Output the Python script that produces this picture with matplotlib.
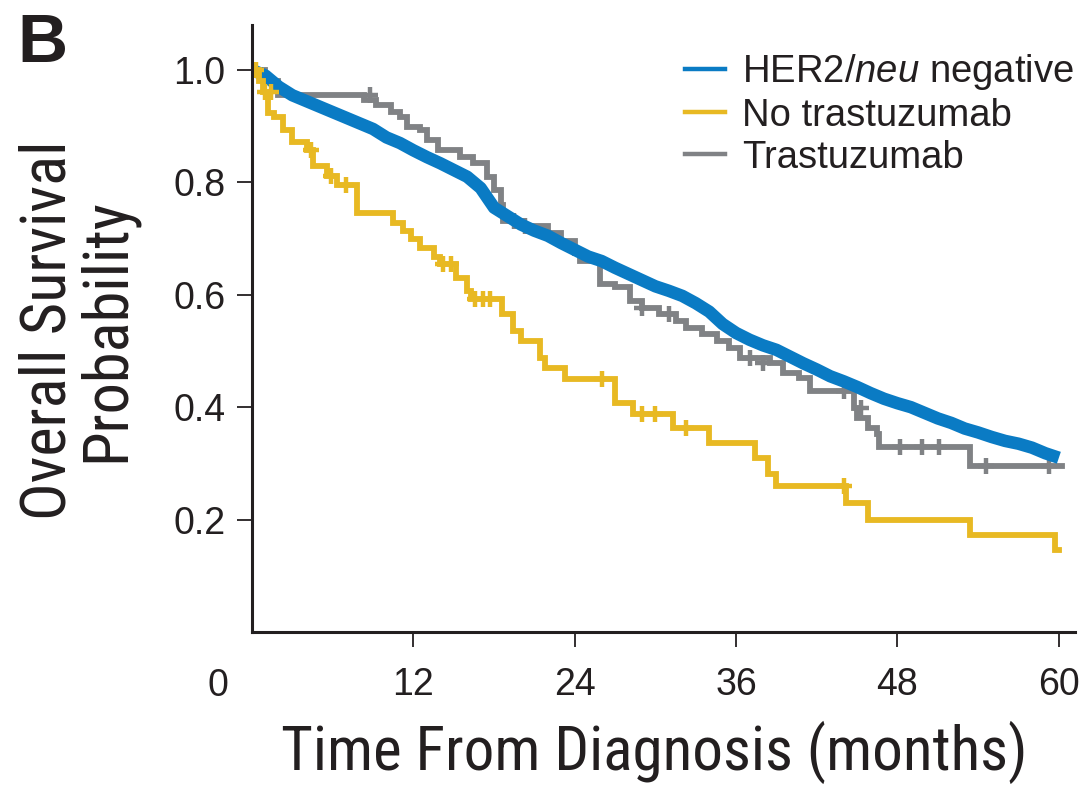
import matplotlib
matplotlib.use('Agg')
import matplotlib.pyplot as plt
from matplotlib.lines import Line2D

# ---------------- data ----------------
neg_t = [0, 1, 2, 3, 4, 5, 6, 7, 8, 9, 10, 11, 12, 13, 14, 15, 16, 17, 18, 19, 20,
         21, 22, 23, 24, 25, 26, 27, 28, 29, 30, 31, 32, 33, 34, 35, 36, 37, 38, 39, 40,
         41, 42, 43, 44, 45, 46, 47, 48, 49, 50, 51, 52, 53, 54, 55, 56, 57, 58, 59, 60]
neg_s = [1.0, 0.99, 0.97, 0.955, 0.945, 0.935, 0.925, 0.915, 0.905, 0.895, 0.88,
         0.87, 0.857, 0.845, 0.834, 0.822, 0.81, 0.79, 0.755, 0.74, 0.725,
         0.714, 0.705, 0.692, 0.68, 0.668, 0.66, 0.648, 0.637, 0.626, 0.615,
         0.607, 0.598, 0.585, 0.57, 0.548, 0.532, 0.52, 0.51, 0.502, 0.49,
         0.478, 0.467, 0.455, 0.446, 0.436, 0.425, 0.415, 0.407, 0.40, 0.39,
         0.38, 0.372, 0.362, 0.355, 0.347, 0.34, 0.335, 0.328, 0.318, 0.31]

notr_t = [0, 0.5, 0.8, 1.2, 1.6, 2.3, 3.0, 4.1, 4.5, 5.6, 6.3, 7.8, 10.5, 11.2, 11.8,
          12.5, 13.5, 14.0, 15.2, 16.0, 16.3, 18.6, 19.4, 20.0, 21.4, 21.8, 23.3,
          27.0, 28.3, 31.3, 34.0, 37.4, 38.4, 39.0, 44.2, 45.8, 53.4, 59.7, 60.0]
notr_s = [1.0, 0.98, 0.96, 0.923, 0.916, 0.893, 0.871, 0.857, 0.83, 0.812, 0.795,
          0.746, 0.727, 0.714, 0.70, 0.684, 0.668, 0.655, 0.63, 0.607, 0.593,
          0.566, 0.536, 0.518, 0.4875, 0.47, 0.45, 0.407, 0.387, 0.363, 0.336,
          0.309, 0.282, 0.259, 0.229, 0.20, 0.173, 0.146, 0.146]
notr_cens_t = [0.3, 1.0, 1.4, 4.4, 5.9, 7.0, 14.2, 14.8, 16.6, 17.2, 17.7, 26.0,
               29.0, 30.0, 32.3, 44.0]
notr_cens_s = [1.0, 0.96, 0.96, 0.857, 0.812, 0.795, 0.655, 0.655, 0.593, 0.593,
               0.593, 0.45, 0.387, 0.387, 0.363, 0.259]

tr_t = [0, 1.0, 1.9, 8.3, 9.2, 10.3, 11.0, 11.5, 12.5, 13.0, 13.8, 15.5, 16.4, 17.5,
        18.0, 18.5, 18.7, 20.0, 22.0, 23.0, 24.0, 24.4, 25.9, 27.0, 28.1, 29.0,
        30.3, 31.5, 32.3, 33.5, 34.6, 35.5, 36.3, 38.5, 39.5, 40.7, 41.5, 44.8,
        45.0, 45.8, 46.5, 46.6, 53.4, 60.2]
tr_s = [1.0, 0.98, 0.955, 0.946, 0.937, 0.925, 0.916, 0.898, 0.893, 0.875, 0.857,
        0.845, 0.834, 0.809, 0.786, 0.76, 0.732, 0.723, 0.71, 0.695, 0.675, 0.66,
        0.62, 0.613, 0.589, 0.577, 0.566, 0.554, 0.541, 0.53, 0.518, 0.505,
        0.4875, 0.479, 0.461, 0.452, 0.429, 0.398, 0.38, 0.363, 0.352, 0.33,
        0.295, 0.295]
tr_cens_t = [8.8, 19.5, 20.3, 29.0, 31.0, 37.0, 38.0, 44.0, 45.3, 48.2, 49.8, 51.1,
             54.6, 59.3]
tr_cens_s = [0.955, 0.732, 0.723, 0.577, 0.566, 0.4875, 0.479, 0.429, 0.398, 0.33,
             0.33, 0.33, 0.295, 0.295]

x_ticks = [12, 24, 36, 48, 60]
y_ticks = [0.2, 0.4, 0.6, 0.8, 1.0]
y_ticklabels = ['0.2', '0.4', '0.6', '0.8', '1.0']
labels = ['HER2/$\\mathit{neu}$ negative', 'No trastuzumab', 'Trastuzumab']

# ---------------- style ----------------
BLUE = '#0a7bc4'
YELLOW = '#e8b923'
GRAY = '#808285'
INK = '#231f20'
NARROW = ['Roboto Condensed', 'Archivo Narrow', 'DejaVu Sans']

plt.rcParams['font.family'] = ['Liberation Sans', 'DejaVu Sans']
plt.rcParams['mathtext.fontset'] = 'custom'
plt.rcParams['mathtext.it'] = 'Liberation Sans:italic'
plt.rcParams['mathtext.rm'] = 'Liberation Sans'

fig = plt.figure(figsize=(10.84, 7.91), dpi=100)
ax = fig.add_axes([252 / 1084, 1 - 632 / 791, (1075 - 252) / 1084, (632 - 25) / 791])

ax.plot(tr_t, tr_s, drawstyle='steps-post', color=GRAY, lw=4.2, solid_joinstyle='miter')
ax.plot(tr_cens_t, tr_cens_s, ls='none', marker='+', ms=11, mew=3.2, color=GRAY)
ax.plot(neg_t, neg_s, color=BLUE, lw=9, solid_capstyle='butt')
ax.plot(notr_t, notr_s, drawstyle='steps-post', color=YELLOW, lw=4.2, solid_joinstyle='miter')
ax.plot(notr_cens_t, notr_cens_s, ls='none', marker='+', ms=11, mew=3.2, color=YELLOW)

ax.set_xlim(0, 61.2)
ax.set_ylim(0, 1.08)
for s in ['top', 'right']:
    ax.spines[s].set_visible(False)
for s in ['left', 'bottom']:
    ax.spines[s].set_linewidth(2.2)
    ax.spines[s].set_color(INK)

ax.set_xticks(x_ticks)
ax.set_xticklabels([str(v) for v in x_ticks], fontsize=27, color=INK)
ax.set_yticks(y_ticks)
ax.set_yticklabels(y_ticklabels, fontsize=27, color=INK)
ax.tick_params(axis='both', direction='out', length=11, width=1.3, color=INK)
ax.tick_params(axis='x', pad=14)
ax.tick_params(axis='y', pad=8)

fig.text(218 / 1084, 1 - 686 / 791, '0', fontsize=27,
         ha='center', va='center', color=INK)

fig.text(654 / 1084, 1 - 752 / 791, 'Time From Diagnosis (months)', family=NARROW,
         fontsize=44, ha='center', va='center', color=INK)
fig.text(78 / 1084, 1 - 330 / 791, 'Overall Survival\nProbability', family=NARROW,
         fontsize=45, rotation=90, ha='center', va='center', multialignment='center',
         linespacing=0.95, color=INK)

fig.text(17 / 1084, 1 - 12 / 791, 'B', fontsize=50, weight='bold', ha='left', va='top',
         color=INK)

handles = [Line2D([], [], color=c, lw=3.2) for c in (BLUE, YELLOW, GRAY)]
ax.legend(handles, labels, loc='upper right', bbox_to_anchor=(1.008, 0.968),
          frameon=False, fontsize=27.5, handlelength=1.05, handletextpad=0.45,
          labelspacing=0.15, borderaxespad=0.0, borderpad=0.2, labelcolor=INK)

fig.savefig('out.png', dpi=100)
